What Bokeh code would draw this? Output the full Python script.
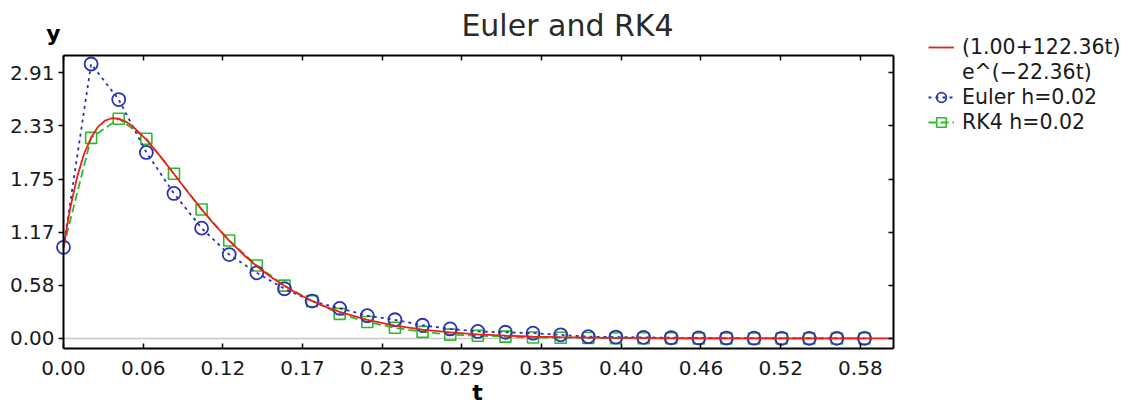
from bokeh.plotting import figure
from bokeh.models import (Range1d, FixedTicker, LinearAxis, Label, Legend,
                          LegendItem, ColumnDataSource)
from bokeh.embed import file_html
from bokeh.resources import INLINE

# ---- data -------------------------------------------------------------
title_text = "Euler and RK4"
x_label = "t"
y_label = "y"
x_tick_values = [0.0, 0.0577, 0.1154, 0.1731, 0.2308, 0.2885, 0.3462, 0.4039, 0.4616, 0.5193, 0.577]
x_tick_labels = ["0.00", "0.06", "0.12", "0.17", "0.23", "0.29", "0.35", "0.40", "0.46", "0.52", "0.58"]
y_tick_values = [0.0, 0.5825, 1.165, 1.7475, 2.33, 2.9125]
y_tick_labels = ["0.00", "0.58", "1.17", "1.75", "2.33", "2.91"]
x_lo, x_hi = 0.0, 0.601
y_lo, y_hi = -0.11, 3.103

t_exact = [0.0, 0.005, 0.01, 0.015, 0.02, 0.025, 0.03, 0.035, 0.04, 0.045, 0.05,
           0.06, 0.07, 0.08, 0.09, 0.10, 0.11, 0.12, 0.13, 0.14, 0.15, 0.16, 0.17,
           0.18, 0.19, 0.20, 0.22, 0.24, 0.26, 0.28, 0.30, 0.32, 0.34, 0.36, 0.38,
           0.40, 0.45, 0.50, 0.55, 0.60]
y_exact = [1.000, 1.441, 1.778, 2.028, 2.204, 2.321, 2.388, 2.415, 2.410, 2.379, 2.327,
           2.181, 2.000, 1.804, 1.606, 1.415, 1.236, 1.072, 0.924, 0.792, 0.676, 0.575, 0.487,
           0.411, 0.347, 0.291, 0.204, 0.142, 0.098, 0.067, 0.046, 0.031, 0.021, 0.014, 0.010,
           0.007, 0.002, 0.001, 0.000, 0.000]

t_step = [0.00, 0.02, 0.04, 0.06, 0.08, 0.10, 0.12, 0.14, 0.16, 0.18,
          0.20, 0.22, 0.24, 0.26, 0.28, 0.30, 0.32, 0.34, 0.36, 0.38,
          0.40, 0.42, 0.44, 0.46, 0.48, 0.50, 0.52, 0.54, 0.56, 0.58]
y_euler = [1.00, 3.01, 2.62, 2.04, 1.59, 1.21, 0.92, 0.72, 0.545, 0.41,
           0.33, 0.25, 0.205, 0.145, 0.105, 0.077, 0.068, 0.058, 0.040, 0.020,
           0.015, 0.012, 0.008, 0.006, 0.004, 0.003, 0.002, 0.001, 0.001, 0.001]
y_rk4 = [1.00, 2.20, 2.41, 2.19, 1.806, 1.414, 1.075, 0.80, 0.58, 0.41,
         0.27, 0.18, 0.117, 0.072, 0.042, 0.030, 0.020, 0.010, 0.008, 0.005,
         0.004, 0.003, 0.002, 0.001, 0.001, 0.0, 0.0, 0.0, 0.0, 0.0]

label_exact_1 = "(1.00+122.36t)"
label_exact_2 = "e^(\u221222.36t)"
label_euler = "Euler h=0.02"
label_rk4 = "RK4 h=0.02"

RED = "#f21c1c"
BLUE = "#2c33b3"
GREEN = "#2cba2c"
FONT = "DejaVu Sans"

# ---- layout: the frame covers the whole canvas; axes are pinned ---------
W, H = 1132, 406
FL, FR, FT, FB = 63, 893, 55, 348          # plot box in canvas pixels
sx = (FR - FL) / (x_hi - x_lo)
sy = (FB - FT) / (y_hi - y_lo)
x_range = Range1d(x_lo - FL / sx, x_hi + (W - FR) / sx)
y_range = Range1d(y_lo - (H - FB) / sy, y_hi + FT / sy)

p = figure(width=W, height=H, output_backend="svg", toolbar_location=None,
           title=None, x_range=x_range, y_range=y_range, min_border=0,
           x_axis_location=None, y_axis_location=None)
p.grid.visible = False
p.outline_line_color = None
p.background_fill_color = "white"
p.border_fill_color = "white"

xt = FixedTicker(ticks=x_tick_values)
yt = FixedTicker(ticks=y_tick_values)
x_over = {v: s for v, s in zip(x_tick_values, x_tick_labels)}
y_over = {v: s for v, s in zip(y_tick_values, y_tick_labels)}
x_blank = {v: "" for v in x_tick_values}
y_blank = {v: "" for v in y_tick_values}

def style(ax, labels, tin, tout, standoff):
    ax.axis_line_color = "black"
    ax.axis_line_width = 2
    ax.major_tick_line_color = "black"
    ax.major_tick_line_width = 1.5
    ax.major_tick_in = tin
    ax.major_tick_out = tout
    ax.minor_tick_line_color = None
    ax.major_label_standoff = standoff
    if labels:
        ax.major_label_text_font = FONT
        ax.major_label_text_font_size = "20px"
        ax.major_label_text_color = "#1a1a1a"
    else:
        ax.major_label_text_font_size = "0px"

# light zero line, limited to the plot box
zero_line = LinearAxis(ticker=FixedTicker(ticks=[]), fixed_location=0.0, bounds=(x_lo, x_hi),
                       axis_line_color="#c8c8c8", axis_line_width=1.5,
                       major_tick_line_color=None, minor_tick_line_color=None,
                       major_label_text_font_size="0px", level="underlay")
p.add_layout(zero_line, "below")

bx = LinearAxis(ticker=xt, major_label_overrides=x_over, fixed_location=y_lo, bounds=(x_lo, x_hi))
style(bx, True, 5, 0, 12)
p.add_layout(bx, "below")
ly = LinearAxis(ticker=yt, major_label_overrides=y_over, fixed_location=x_lo, bounds=(y_lo, y_hi))
style(ly, True, 0, 5, 4)
p.add_layout(ly, "left")
tx = LinearAxis(ticker=xt, major_label_overrides=x_blank, fixed_location=y_hi, bounds=(x_lo, x_hi))
style(tx, False, 5, 0, 0)
p.add_layout(tx, "above")
ry = LinearAxis(ticker=yt, major_label_overrides=y_blank, fixed_location=x_hi, bounds=(y_lo, y_hi))
style(ry, False, 5, 0, 0)
p.add_layout(ry, "right")

src_exact = ColumnDataSource(dict(t=t_exact, y=y_exact))
src_step = ColumnDataSource(dict(t=t_step, e=y_euler, r=y_rk4))
src_rk_marks = ColumnDataSource(dict(t=t_step[1:], r=y_rk4[1:]))

g_line = p.line("t", "r", source=src_step, line_color=GREEN, line_width=1.8, line_dash="8 4")
g_mark = p.scatter("t", "r", source=src_rk_marks, marker="square", size=11,
                   fill_color=None, line_color=GREEN, line_width=1.6)
b_line = p.line("t", "e", source=src_step, line_color=BLUE, line_width=1.8, line_dash="3 4")
b_mark = p.scatter("t", "e", source=src_step, marker="circle", size=13,
                   fill_color=None, line_color=BLUE, line_width=1.8)
r_line = p.line("t", "y", source=src_exact, line_color=RED, line_width=1.8)
r_blank = p.line("t", "y", source=src_exact, line_alpha=0)

legend = Legend(items=[
    LegendItem(label=label_exact_1, renderers=[r_line]),
    LegendItem(label=label_exact_2, renderers=[r_blank]),
    LegendItem(label=label_euler, renderers=[b_line, b_mark]),
    LegendItem(label=label_rk4, renderers=[g_line, g_mark]),
], location=(928, H - 134))
legend.label_text_font = FONT
legend.label_text_font_size = "20.5px"
legend.label_text_color = "#1a1a1a"
legend.label_height = 24
legend.glyph_height = 24
legend.glyph_width = 26
legend.label_standoff = 8
legend.spacing = 1
legend.padding = 0
legend.margin = 0
legend.border_line_color = None
legend.background_fill_alpha = 0
p.add_layout(legend, "center")

p.add_layout(Label(x=567, y=H - 25, x_units="screen", y_units="screen", text=title_text,
                   text_font=FONT, text_font_size="30px", text_color="#2a2a2a",
                   text_align="center", text_baseline="middle"))
p.add_layout(Label(x=53, y=H - 33, x_units="screen", y_units="screen", text=y_label,
                   text_font=FONT, text_font_size="22px", text_font_style="bold",
                   text_color="black", text_align="center", text_baseline="middle"))
p.add_layout(Label(x=477, y=H - 392, x_units="screen", y_units="screen", text=x_label,
                   text_font=FONT, text_font_size="22px", text_font_style="bold",
                   text_color="black", text_align="center", text_baseline="middle"))

open("out.html", "w").write(file_html(p, INLINE))
